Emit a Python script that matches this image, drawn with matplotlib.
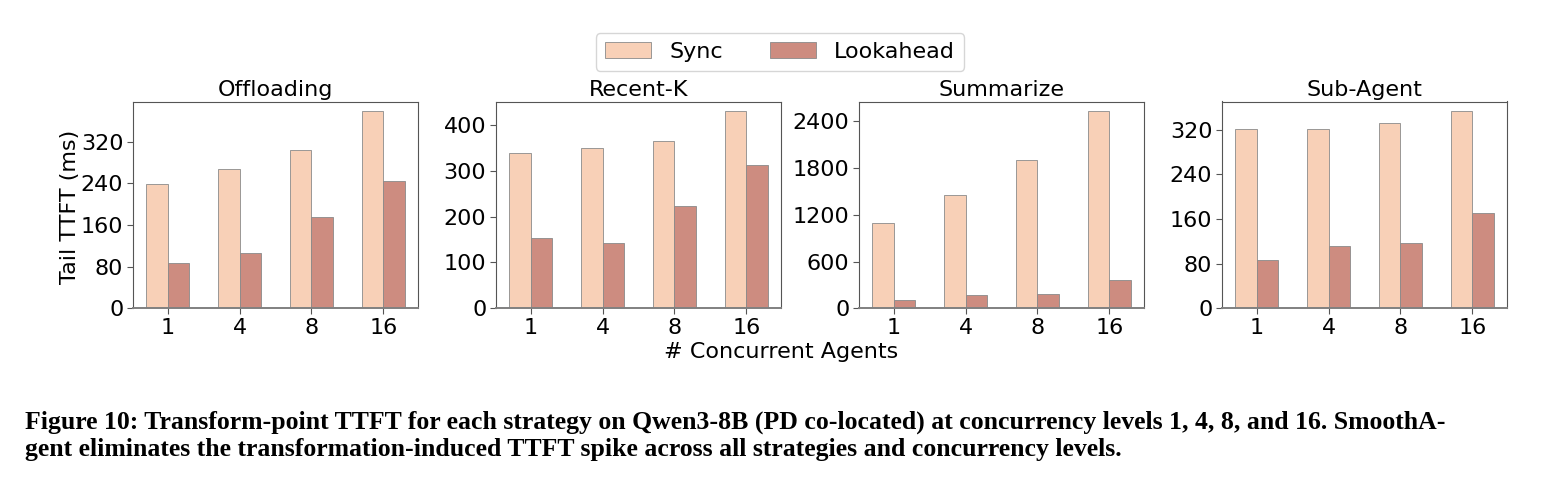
import numpy as np
import matplotlib
matplotlib.use("Agg")
import matplotlib.pyplot as plt
from matplotlib.ticker import MultipleLocator

# data
concurrency = ["1", "4", "8", "16"]
strategies = ["Offloading", "Recent-K", "Summarize", "Sub-Agent"]

sync_offloading = [238, 267, 303, 378]
look_offloading = [87, 107, 175, 245]
sync_recentk = [338, 351, 366, 430]
look_recentk = [153, 143, 224, 312]
sync_summarize = [1101, 1449, 1899, 2529]
look_summarize = [103, 167, 180, 360]
sync_subagent = [321, 321, 332, 353]
look_subagent = [87, 112, 117, 170]

tick_steps = [80, 100, 600, 80]

SYNC_COLOR = "#F8D0B7"
LOOK_COLOR = "#CD8C80"
FS = 16

plt.rcParams["font.family"] = "DejaVu Sans"

fig = plt.figure(figsize=(15.67, 4.95), dpi=100)
W, H = 1567.0, 495.0

lefts = [133, 496, 859, 1222]
ax_w, ax_top, ax_bot = 285, 101.5, 308.3

sync_all = [sync_offloading, sync_recentk, sync_summarize, sync_subagent]
look_all = [look_offloading, look_recentk, look_summarize, look_subagent]

x = np.arange(len(concurrency))
width = 0.3
axes = []
for i, name in enumerate(strategies):
    ax = fig.add_axes([lefts[i] / W, 1 - ax_bot / H, ax_w / W, (ax_bot - ax_top) / H])
    ax.bar(x - width / 2, sync_all[i], width, color=SYNC_COLOR,
           edgecolor="#8a8a8a", linewidth=0.6, label="Sync")
    ax.bar(x + width / 2, look_all[i], width, color=LOOK_COLOR,
           edgecolor="#8a8a8a", linewidth=0.6, label="Lookahead")
    ax.set_ylim(0, max(sync_all[i]) * 1.05)
    ax.yaxis.set_major_locator(MultipleLocator(tick_steps[i]))
    ax.set_xticks(x)
    ax.set_xticklabels(concurrency)
    ax.set_title(name, fontsize=FS, pad=4)
    ax.tick_params(labelsize=FS, length=4, color="#555555", pad=3)
    for s in ax.spines.values():
        s.set_color("#555555")
    ax.spines["bottom"].set_color("#808080")
    ax.spines["bottom"].set_linewidth(1.4)
    axes.append(ax)

fig.text(70 / W, 1 - 207 / H, "Tail TTFT (ms)", rotation=90, ha="center", va="center", fontsize=FS)
fig.text(781 / W, 1 - 352 / H, "# Concurrent Agents", ha="center", va="center", fontsize=FS)

handles, labels = axes[0].get_legend_handles_labels()
fig.legend(handles, labels, loc="center", bbox_to_anchor=(780 / W, 1 - 52 / H),
           ncol=2, fontsize=FS, frameon=True, handlelength=2.07, columnspacing=2.1,
           borderpad=0.4, handletextpad=0.84)

caption1 = ("Figure 10: Transform-point TTFT for each strategy on Qwen3-8B (PD co-located) "
            "at concurrency levels 1, 4, 8, and 16. SmoothA-")
caption2 = "gent eliminates the transformation-induced TTFT spike across all strategies and concurrency levels."
for txt, base in [(caption1, 429), (caption2, 456)]:
    fig.text(25 / W, 1 - base / H, txt, ha="left", va="baseline", fontsize=18.5,
             fontweight="bold", family="Liberation Serif")

fig.savefig("out.png", dpi=100)
